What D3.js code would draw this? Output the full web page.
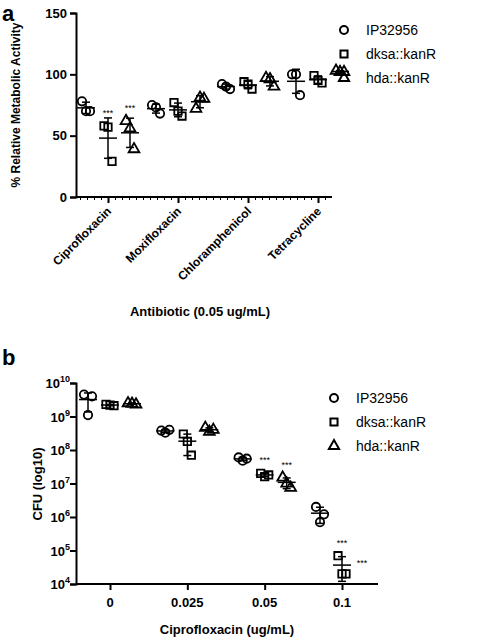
<!DOCTYPE html>
<html><head><meta charset="utf-8">
<script src="https://cdn.jsdelivr.net/npm/d3@7"></script>
<style>body{margin:0;background:#fff}text{font-family:Arial,"Liberation Sans",sans-serif}</style>
</head><body><div id="chart"></div>
<script>
// strains and legend
var strains = ["IP32956", "dksa::kanR", "hda::kanR"];
var shapes = [d3.symbolCircle, d3.symbolSquare, d3.symbolTriangle];

// panel a: % relative metabolic activity, 3 replicates per strain
var antibiotics = ["Ciprofloxacin", "Moxifloxacin", "Chloramphenicol", "Tetracycline"];
var actIP = [[78, 70, 70], [75, 73, 68], [92, 90, 88], [100, 100, 83]];
var actDksa = [[58, 57, 29], [77, 70, 66], [94, 92, 88], [99, 95, 93]];
var actHda = [[62, 56, 39], [72, 81, 80], [97, 96, 90], [103, 102, 102]];
var starsA = [[0, 1], [0, 2]];

// panel b: CFU at ciprofloxacin concentrations
var doses = ["0", "0.025", "0.05", "0.1"];
var cfuIP = [[4.5e9, 1.1e9, 4e9], [3.8e8, 3.3e8, 4e8], [6e7, 4.8e7, 5.5e7], [2e6, 7e5, 1.2e6]];
var cfuDksa = [[2.3e9, 2.2e9, 2.1e9], [3e8, 1.8e8, 7e7], [2e7, 1.6e7, 1.8e7], [7e4, 2e4, 2e4]];
var cfuHda = [[2.5e9, 2.4e9, 2.3e9], [4.6e8, 3.5e8, 4e8], [1.5e7, 1e7, 7.5e6], [null, null, null]];
var starsB = [[2, 1], [2, 2], [3, 1], [3, 2]];
var logTicks = [1e4, 1e5, 1e6, 1e7, 1e8, 1e9, 1e10];

var svg = d3.select("#chart").append("svg").attr("width", 500).attr("height", 640);
var jit = [-4, 0, 4];
var offs = [-22, 0, 22];

function drawPanel(o) {
  var g = svg.append("g");
  var x = d3.scalePoint().domain(o.cats).range(o.xr);
  var y = o.y;
  var xa = g.append("g").attr("transform", "translate(0," + o.yBottom + ")")
    .call(d3.axisBottom(x).tickSize(6).tickFormat(""));
  xa.select(".domain").attr("d", "M" + o.x0 + ",0H" + o.x1);
  var ya = g.append("g").attr("transform", "translate(" + o.x0 + ",0)").call(o.yAxis);
  g.selectAll(".domain, .tick line").attr("stroke", "#000").attr("stroke-width", 2);
  ya.selectAll("text").attr("font-size", 13).attr("font-weight", "bold");
  o.series.forEach(function (ser, si) {
    ser.forEach(function (reps, ci) {
      var cx = x(o.cats[ci]) + offs[si];
      var vals = reps.filter(function (v) { return v != null; });
      if (!vals.length) return;
      var m = d3.mean(vals), sd = d3.deviation(vals) || 0;
      var lo = o.lo(m, sd);
      g.append("line").attr("x1", cx).attr("x2", cx).attr("y1", y(lo)).attr("y2", y(m + sd))
        .attr("stroke", "#000").attr("stroke-width", 1.5);
      [lo, m + sd].forEach(function (v) {
        g.append("line").attr("x1", cx - 4).attr("x2", cx + 4).attr("y1", y(v)).attr("y2", y(v))
          .attr("stroke", "#000").attr("stroke-width", 1.5);
      });
      g.append("line").attr("x1", cx - 9).attr("x2", cx + 9).attr("y1", y(m)).attr("y2", y(m))
        .attr("stroke", "#000").attr("stroke-width", 1.5);
      reps.forEach(function (v, ri) {
        if (v == null) return;
        g.append("path").attr("d", d3.symbol().type(shapes[si]).size(si === 2 ? 50 : 55)())
          .attr("transform", "translate(" + (cx + jit[ri]) + "," + y(v) + ")")
          .attr("fill", "none").attr("stroke", "#000").attr("stroke-width", 1.8);
      });
    });
  });
  o.stars.forEach(function (s) {
    var reps = o.series[s[1]][s[0]];
    var vals = reps.filter(function (v) { return v != null; });
    var cx = x(o.cats[s[0]]) + offs[s[1]], ty;
    if (vals.length) ty = y(d3.max(vals)) - 10; else { cx -= 2; ty = o.yBottom - 18; }
    g.append("text").attr("x", cx).attr("y", ty).attr("text-anchor", "middle")
      .attr("font-size", 9).text("***");
  });
  strains.forEach(function (s, i) {
    var ly = o.legY + i * 24;
    g.append("path").attr("d", d3.symbol().type(shapes[i]).size(i === 2 ? 45 : 50)())
      .attr("transform", "translate(" + o.legX + "," + ly + ")")
      .attr("fill", "none").attr("stroke", "#000").attr("stroke-width", 2);
    g.append("text").attr("x", o.legX + 22).attr("y", ly + 5).attr("font-size", 14).text(s);
  });
  return {g: g, x: x};
}

// panel a
var yA = d3.scaleLinear().domain([0, 150]).range([197, 13]);
var pa = drawPanel({
  cats: antibiotics, xr: [108, 318], x0: 76, x1: 332, yBottom: 197, y: yA,
  yAxis: d3.axisLeft(yA).tickValues([0, 50, 100, 150]).tickSize(6),
  series: [actIP, actDksa, actHda], lo: function (m, sd) { return m - sd; },
  stars: starsA, legX: 344, legY: 30
});
// minor ticks on x axis
pa.g.append("g").attr("transform", "translate(0,197)")
  .call(d3.axisBottom(d3.scaleLinear().domain([76, 332]).range([76, 332])).tickValues(d3.range(80, 332, 7)).tickSize(3).tickFormat(""))
  .call(function (a) { a.select(".domain").remove(); a.selectAll("line").attr("stroke", "#000"); });
antibiotics.forEach(function (c) {
  pa.g.append("text").attr("transform", "translate(" + (pa.x(c) + 4) + ",212) rotate(-45)")
    .attr("text-anchor", "end").attr("font-size", 12).attr("font-weight", "bold").text(c);
});
svg.append("text").attr("x", 2).attr("y", 21).attr("font-size", 22).attr("font-weight", "bold").text("a");
svg.append("text").attr("transform", "translate(20,105) rotate(-90)").attr("text-anchor", "middle")
  .attr("font-size", 12).attr("font-weight", "bold").text("% Relative Metabolic Activity");
svg.append("text").attr("x", 200).attr("y", 316).attr("text-anchor", "middle")
  .attr("font-size", 13).attr("font-weight", "bold").text("Antibiotic (0.05 ug/mL)");

// panel b
var yB = d3.scaleLog().domain([1e4, 1e10]).range([584, 383]);
var pb = drawPanel({
  cats: doses, xr: [110, 342], x0: 76, x1: 378, yBottom: 584, y: yB,
  yAxis: d3.axisLeft(yB).tickValues(logTicks).tickSize(6).tickFormat(""),
  series: [cfuIP, cfuDksa, cfuHda], lo: function (m, sd) { return Math.max(m - sd, 1.2e4); },
  stars: starsB, legX: 334, legY: 398
});
logTicks.forEach(function (t) {
  var tx = pb.g.append("text").attr("x", 70).attr("y", yB(t) + 5).attr("text-anchor", "end")
    .attr("font-size", 13).attr("font-weight", "bold");
  tx.append("tspan").text("10");
  tx.append("tspan").attr("dy", -6).attr("font-size", 9).text(Math.round(Math.log10(t)));
});
doses.forEach(function (d) {
  pb.g.append("text").attr("x", pb.x(d)).attr("y", 607).attr("text-anchor", "middle")
    .attr("font-size", 13).attr("font-weight", "bold").text(d);
});
svg.append("text").attr("x", 2).attr("y", 365).attr("font-size", 22).attr("font-weight", "bold").text("b");
svg.append("text").attr("transform", "translate(42,484) rotate(-90)").attr("text-anchor", "middle")
  .attr("font-size", 13).attr("font-weight", "bold").text("CFU (log10)");
svg.append("text").attr("x", 227).attr("y", 634).attr("text-anchor", "middle")
  .attr("font-size", 13).attr("font-weight", "bold").text("Ciprofloxacin (ug/mL)");
</script></body></html>
